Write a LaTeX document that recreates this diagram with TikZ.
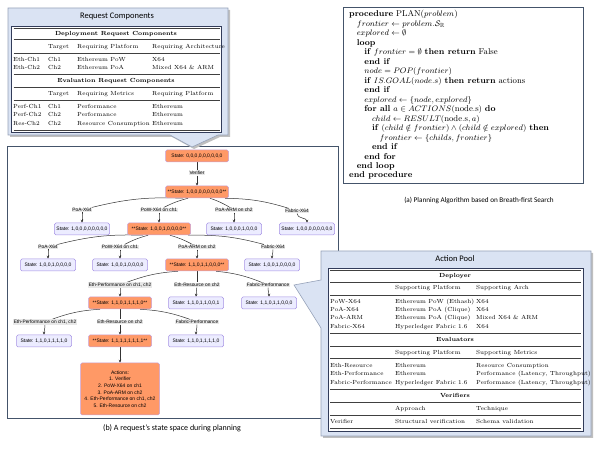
\documentclass[tikz,border=0pt]{standalone}
\usepackage{amssymb}
\usepackage{fontspec}
\newfontfamily\calib{Carlito}
\newfontfamily\treef{Liberation Sans}
\usetikzlibrary{arrows.meta}
\pgfdeclarelayer{bg}
\pgfsetlayers{bg,main}
\definecolor{cofill}{RGB}{218,227,243}
\definecolor{coline}{RGB}{150,162,185}
\definecolor{frame}{RGB}{68,84,106}
\definecolor{tabline}{RGB}{50,60,90}
\definecolor{orfill}{RGB}{255,153,102}
\definecolor{orline}{RGB}{200,160,215}
\definecolor{lvfill}{RGB}{236,236,255}
\definecolor{lvline}{RGB}{165,145,228}
\definecolor{edgec}{RGB}{51,51,51}
\definecolor{lblfill}{RGB}{232,232,232}
\tikzset{
 st/.style={rounded corners=1.5pt, line width=0.5pt, minimum height=12pt, inner xsep=2pt, inner ysep=0pt, font=\treef\fontsize{5}{6}\selectfont},
 orn/.style={st, fill=orfill, draw=orline, minimum width=63pt},
 lav/.style={st, fill=lvfill, draw=lvline, minimum width=55pt},
 elbl/.style={fill=lblfill, inner sep=0.6pt, font=\treef\fontsize{4.8}{5.5}\selectfont},
 edge/.style={draw=edgec, line width=0.5pt},
 arr/.style={edge, -{Stealth[length=3pt,width=2.6pt]}},
 cell/.style={anchor=west, inner sep=0pt, text height=4.2pt, text depth=1.3pt, font=\fontsize{5.9}{7}\selectfont},
 hcell/.style={inner sep=0pt, text height=4.2pt, text depth=1.3pt, font=\fontsize{5.9}{7}\selectfont\bfseries},
 rule/.style={draw=black!75, line width=0.45pt},
 alg/.style={anchor=west, inner sep=0pt, text height=6pt, text depth=2pt, font=\fontsize{8.5}{9.5}\selectfont},
 ttl/.style={font=\calib\fontsize{8.5}{10}\selectfont},
}
\newcommand\rcrow[5]{\node[cell] (rc#1a) at (13,#1) {#2}; \node[cell] (rc#1b) at (48,#1) {#3}; \node[cell] (rc#1c) at (77,#1) {#4}; \node[cell] (rc#1d) at (152,#1) {#5};}
\newcommand\aprow[4]{\node[cell] (ap#1a) at (330,#1) {#2}; \node[cell] (ap#1b) at (395,#1) {#3}; \node[cell] (ap#1c) at (476,#1) {#4};}
\newcommand\rcrule[1]{\draw[rule] (13.5,#1) -- (219.5,#1);}
\newcommand\aprule[1]{\draw[rule] (330,#1) -- (581,#1);}
\newcommand\algline[3]{\node[alg] (alg#1) at ({349+#2*7.6},{15+#1*9.47}) {#3};}
\begin{document}
\begin{tikzpicture}[x=1pt,y=-1pt]
\useasboundingbox (0,0) rectangle (598,449);

% ---------- Request Components callout ----------
\fill[black!25] (10,10) -- (230,10) -- (230,137) -- (220,137) -- (194,149) -- (172,137) -- (10,137) -- cycle;
\draw[coline, fill=cofill, line width=0.6pt] (8,8) -- (228,8) -- (228,135) -- (218,135) -- (192,147) -- (170,135) -- (8,135) -- cycle;
\node[ttl] (rctitle) at (117,16.5) {Request Components};
\draw[tabline, fill=white, line width=0.5pt] (11.5,26) rectangle (221,132);
\rcrule{28.5}
\node[hcell] (rch1) at (116,34) {Deployment Request Components};
\rcrule{39}
\node[cell] (rch1b) at (48,47) {Target};
\node[cell] (rch1c) at (77,47) {Requiring Platform};
\node[cell] (rch1d) at (152,47) {Requiring Architecture};
\rcrule{53}
\rcrow{60}{Eth-Ch1}{Ch1}{Ethereum PoW}{X64}
\rcrow{68}{Eth-Ch2}{Ch2}{Ethereum PoA}{Mixed X64 \& ARM}
\rcrule{74}
\node[hcell] (rch2) at (116,81) {Evaluation Request Components};
\rcrule{87}
\node[cell] (rch2b) at (48,94) {Target};
\node[cell] (rch2c) at (77,94) {Requiring Metrics};
\node[cell] (rch2d) at (152,94) {Requiring Platform};
\rcrule{100}
\rcrow{107}{Perf-Ch1}{Ch1}{Performance}{Ethereum}
\rcrow{115}{Perf-Ch2}{Ch2}{Performance}{Ethereum}
\rcrow{124}{Res-Ch2}{Ch2}{Resource Consumption}{Ethereum}
\rcrule{130}

% ---------- Algorithm ----------
\draw[frame, fill=white, line width=0.7pt] (343,7) rectangle (583,183);
\algline{0}{0}{\textbf{procedure} PLAN($problem$)}
\algline{1}{1}{$frontier \leftarrow problem.\mathcal{S}_{\mathbb{R}}$}
\algline{2}{1}{$explored \leftarrow \emptyset$}
\algline{3}{1}{\textbf{loop}}
\algline{4}{2}{\textbf{if} $frontier = \emptyset$ \textbf{then return} False}
\algline{5}{2}{\textbf{end if}}
\algline{6}{2}{$node = POP(frontier)$}
\algline{7}{2}{\textbf{if} $IS.GOAL(node.s)$ \textbf{then return} actions}
\algline{8}{2}{\textbf{end if}}
\algline{9}{2}{$explored \leftarrow \{node, explored\}$}
\algline{10}{2}{\textbf{for all} $a \in ACTIONS(\mathrm{node.s})$ \textbf{do}}
\algline{11}{3}{$child \leftarrow RESULT(\mathrm{node.s}, a)$}
\algline{12}{3}{\textbf{if} $(child \notin frontier) \wedge (child \notin explored)$ \textbf{then}}
\algline{13}{4}{$frontier \leftarrow \{childs, frontier\}$}
\algline{14}{3}{\textbf{end if}}
\algline{15}{2}{\textbf{end for}}
\algline{16}{1}{\textbf{end loop}}
\algline{17}{0}{\textbf{end procedure}}
\node[font=\calib\fontsize{7.2}{9}\selectfont] (capa) at (479,200) {(a) Planning Algorithm based on Breath-first Search};

% ---------- State tree ----------
\node[orn] (root) at (197,156) {State: 0,0,0,0,0,0,0,0,0};
\node[elbl] (lv) at (197,173) {Verifier};
\node[orn] (n1) at (197,192) {**State: 1,0,0,0,0,0,0,0,0**};

\node[elbl] (l1a) at (82,210) {PoA-X64};
\node[elbl] (l1b) at (159,210) {PoW-X64 on ch1};
\node[elbl] (l1c) at (234,210) {PoA-ARM on ch2};
\node[elbl] (l1d) at (297,211) {Fabric-X64};
\node[lav] (a1) at (82,229) {State: 1,0,0,0,0,0,0,0,0};
\node[orn] (n2) at (159,229) {**State: 1,0,0,1,0,0,0,0**};
\node[lav] (a2) at (234,229) {State: 1,0,0,0,1,0,0,0};
\node[lav] (a3) at (307,229) {State: 1,0,0,0,0,0,0,0,0};

\node[elbl] (l2a) at (48,247) {PoA-X64};
\node[elbl] (l2b) at (120,247) {PoW-X64 on ch1};
\node[elbl] (l2c) at (197,247) {PoA-ARM on ch2};
\node[elbl] (l2d) at (273,247) {Fabric-X64};
\node[lav] (b1) at (48,265) {State: 1,0,0,1,0,0,0,0};
\node[lav] (b2) at (120,265) {State: 1,0,0,1,0,0,0,0};
\node[orn] (n3) at (197,265) {**State: 1,1,0,1,1,0,0,0**};
\node[lav] (b3) at (272,265) {State: 1,0,0,1,0,0,0,0};

\node[elbl] (l3a) at (120,285) {Eth-Performance on ch1, ch2};
\node[elbl] (l3b) at (197,285) {Eth-Resource on ch2};
\node[elbl] (l3c) at (268,285) {Fabric-Performance};
\node[orn] (n4) at (120,303) {**State: 1,1,0,1,1,1,1,0**};
\node[lav] (c1) at (196,303) {State: 1,1,0,1,1,0,0,1};
\node[lav] (c2) at (269,303) {State: 1,1,0,1,1,0,0,0};

\node[elbl] (l4a) at (45,322) {Eth-Performance on ch1, ch2};
\node[elbl] (l4b) at (120,322) {Eth-Resource on ch2};
\node[elbl] (l4c) at (197,322) {Fabric-Performance};
\node[lav] (d1) at (44,341) {State: 1,1,0,1,1,1,1,0};
\node[orn] (n5) at (120,341) {**State: 1,1,1,1,1,1,1,1**};
\node[lav] (d2) at (196,341) {State: 1,1,0,1,1,1,1,0};

\node[st, fill=orfill, draw=orline, minimum width=79pt, minimum height=52pt, align=center, font=\treef\fontsize{5}{6.7}\selectfont] (act) at (120,389) {Actions:\\1. Verifier\\2. PoW-X64 on ch1\\3. PoA-ARM on ch2\\4. Eth-Performance on ch1, ch2\\5. Eth-Resource on ch2};

\node[font=\calib\fontsize{8}{10}\selectfont] (capb) at (172,428) {(b) A request’s state space during planning};

\begin{pgfonlayer}{bg}
\draw[frame, line width=0.7pt] (7,146) rectangle (338,418);
\draw[edge] (root) -- (lv); \draw[arr] (lv) -- (n1);
% level 1
\draw[edge] ([xshift=-14pt]n1.south) to[bend right=8] (l1a); \draw[arr] (l1a) to[out=-90,in=90] (a1.north);
\draw[edge] ([xshift=-9pt]n1.south) to[bend right=6] (l1b); \draw[arr] (l1b) to[out=-90,in=90] (n2.north);
\draw[edge] ([xshift=13pt]n1.south) to[bend left=6] (l1c); \draw[arr] (l1c) to[out=-90,in=90] (a2.north);
\draw[edge] ([xshift=28pt]n1.south) to[bend left=8] (l1d); \draw[arr] (l1d) to[out=-90,in=90] (a3.north);
% level 2
\draw[edge] ([xshift=-16pt]n2.south) to[bend right=8] (l2a); \draw[arr] (l2a) to[out=-90,in=90] (b1.north);
\draw[edge] ([xshift=-11pt]n2.south) to[bend right=6] (l2b); \draw[arr] (l2b) to[out=-90,in=90] (b2.north);
\draw[edge] ([xshift=11pt]n2.south) to[bend left=6] (l2c); \draw[arr] (l2c) to[out=-90,in=90] (n3.north);
\draw[edge] ([xshift=29pt]n2.south) to[bend left=8] (l2d); \draw[arr] (l2d) to[out=-90,in=90] (b3.north);
% level 3
\draw[edge] ([xshift=-19pt]n3.south) to[bend right=8] (l3a); \draw[arr] (l3a) to[out=-90,in=90] (n4.north);
\draw[edge] (n3) -- (l3b); \draw[arr] (l3b) -- (c1.north);
\draw[edge] ([xshift=19pt]n3.south) to[bend left=8] (l3c); \draw[arr] (l3c) to[out=-90,in=90] (c2.north);
% level 4
\draw[edge] ([xshift=-20pt]n4.south) to[bend right=8] (l4a); \draw[arr] (l4a) to[out=-90,in=90] (d1.north);
\draw[edge] (n4) -- (l4b); \draw[arr] (l4b) -- (n5.north);
\draw[edge] ([xshift=20pt]n4.south) to[bend left=8] (l4c); \draw[arr] (l4c) to[out=-90,in=90] (d2.north);
% level 5
\draw[arr] (n5) -- (act);
\end{pgfonlayer}

% ---------- Action Pool callout ----------
\fill[black!25] (323,253) -- (593,253) -- (593,438) -- (323,438) -- (323,330) -- (296,287) -- (323,282) -- cycle;
\draw[coline, fill=cofill, line width=0.6pt] (321,251) -- (591,251) -- (591,436) -- (321,436) -- (321,328) -- (294,285) -- (321,280) -- cycle;
\node[ttl] (aptitle) at (455,259) {Action Pool};
\draw[tabline, fill=white, line width=0.5pt] (328,268) rectangle (583,431);
\aprule{270.5}
\node[hcell] (aph1) at (455,276) {Deployer};
\aprule{282}
\node[cell] (aph1b) at (395,288) {Supporting Platform};
\node[cell] (aph1c) at (476,288) {Supporting Arch};
\aprule{295}
\aprow{302}{PoW-X64}{Ethereum PoW (Ethash)}{X64}
\aprow{310}{PoA-X64}{Ethereum PoA (Clique)}{X64}
\aprow{318}{PoA-ARM}{Ethereum PoA (Clique)}{Mixed X64 \& ARM}
\aprow{327}{Fabric-X64}{Hyperledger Fabric 1.6}{X64}
\aprule{333}
\node[hcell] (aph2) at (455,340) {Evaluators};
\aprule{346}
\node[cell] (aph2b) at (395,353) {Supporting Platform};
\node[cell] (aph2c) at (476,353) {Supporting Metrics};
\aprule{358}
\aprow{366}{Eth-Resource}{Ethereum}{Resource Consumption}
\aprow{374}{Eth-Performance}{Ethereum}{Performance (Latency, Throughput)}
\aprow{383}{Fabric-Performance}{Hyperledger Fabric 1.6}{Performance (Latency, Throughput)}
\aprule{389}
\node[hcell] (aph3) at (455,396) {Verifiers};
\aprule{402}
\node[cell] (aph3b) at (395,409) {Approach};
\node[cell] (aph3c) at (476,409) {Technique};
\aprule{415}
\aprow{422}{Verifier}{Structural verification}{Schema validation}
\aprule{428}
\end{tikzpicture}
\end{document}
